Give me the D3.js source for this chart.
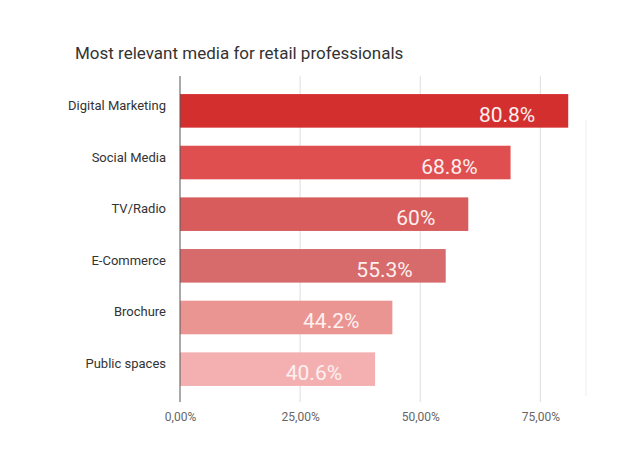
<!DOCTYPE html>
<html>
<head>
<meta charset="utf-8">
<script src="https://cdn.jsdelivr.net/npm/d3@7"></script>
<style>
  body { margin: 0; background: #fff; }
  svg { font-family: Roboto, "Open Sans", sans-serif; }
</style>
</head>
<body>
<script>
var categories = ["Digital Marketing", "Social Media", "TV/Radio", "E-Commerce", "Brochure", "Public spaces"];
var values = [80.8, 68.8, 60, 55.3, 44.2, 40.6];
var valueLabels = ["80.8%", "68.8%", "60%", "55.3%", "44.2%", "40.6%"];
var barColors = ["#d32f2f", "#e04f4f", "#d95c5c", "#d76a6a", "#eb9593", "#f4b0b1"];
var xTicks = [0, 0.25, 0.5, 0.75];

var width = 630, height = 450;

var svg = d3.select("body").append("svg").attr("width", width).attr("height", height);

var data = categories.map(function(c, i){ return {name: c, value: values[i] / 100, label: valueLabels[i], color: barColors[i]}; });

var x = d3.scaleLinear().domain([0, 0.845]).range([180, 586]);
var y = d3.scaleBand().domain(categories).range([76, 404]).padding(0.35);

var locale = d3.formatLocale({decimal: ",", thousands: ".", grouping: [3], currency: ["", "€"]});
var pct = locale.format(".2%");

svg.append("text")
    .attr("x", 75).attr("y", 59)
    .attr("font-size", 17).attr("fill", "#333")
    .text("Most relevant media for retail professionals");

// gridlines
svg.append("g").selectAll("line")
    .data(xTicks.slice(1))
  .enter().append("line")
    .attr("x1", function(d){ return x(d); }).attr("x2", function(d){ return x(d); })
    .attr("y1", 76).attr("y2", 402)
    .attr("stroke", "#ddd").attr("stroke-width", 1);

// faint right border
svg.append("line")
    .attr("x1", x.range()[1]).attr("x2", x.range()[1])
    .attr("y1", 120).attr("y2", 396)
    .attr("stroke", "#eee");

var xAxis = d3.axisBottom(x).tickValues(xTicks).tickFormat(pct).tickSize(0).tickPadding(10);
var gx = svg.append("g").attr("transform", "translate(0,402)").call(xAxis);
gx.select(".domain").remove();
gx.selectAll("text").attr("font-size", 12).attr("fill", "#666").attr("font-family", "Roboto, sans-serif");

svg.append("g").selectAll("rect")
    .data(data)
  .enter().append("rect")
    .attr("x", x(0))
    .attr("y", function(d){ return y(d.name); })
    .attr("width", function(d){ return x(d.value) - x(0); })
    .attr("height", y.bandwidth())
    .attr("fill", function(d){ return d.color; });

// y axis line
svg.append("line")
    .attr("x1", x(0)).attr("x2", x(0))
    .attr("y1", 76).attr("y2", 402)
    .attr("stroke", "#555").attr("stroke-width", 1);

svg.append("g").selectAll("text")
    .data(data)
  .enter().append("text")
    .attr("x", 166)
    .attr("y", function(d){ return y(d.name) + y.bandwidth() / 2 - 1; })
    .attr("text-anchor", "end")
    .attr("font-size", 13).attr("fill", "#333")
    .text(function(d){ return d.name; });

svg.append("g").selectAll("text")
    .data(data)
  .enter().append("text")
    .attr("x", function(d){ return x(d.value) - 33; })
    .attr("y", function(d){ return y(d.name) + y.bandwidth() / 2 + 11; })
    .attr("text-anchor", "end")
    .attr("font-size", 21).attr("fill", "#fdf0f0")
    .text(function(d){ return d.label; });
</script>
</body>
</html>
